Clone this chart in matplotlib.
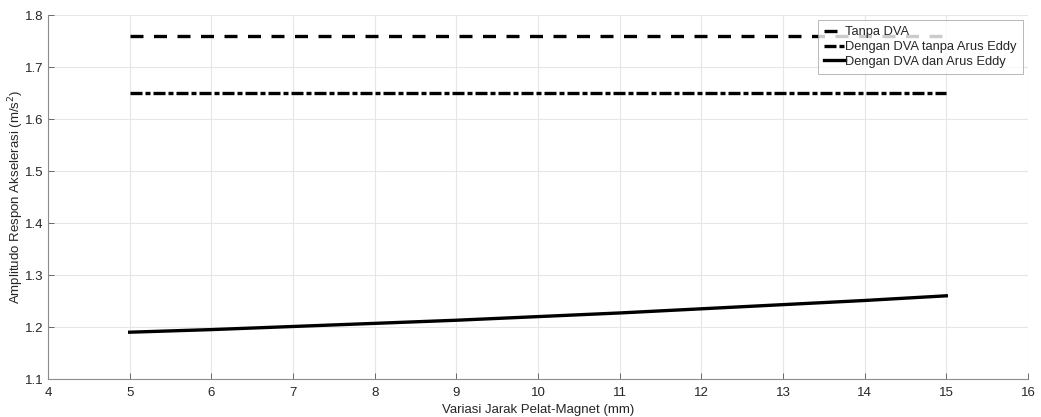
import matplotlib.pyplot as plt
import matplotlib as mpl

mpl.rcParams['font.family'] = ['Liberation Sans', 'DejaVu Sans']
mpl.rcParams['font.size'] = 9.5

# data
jarak = [5, 6, 7, 8, 9, 10, 11, 12, 13, 14, 15]
tanpa_dva = [1.76] * len(jarak)
dva_tanpa_eddy = [1.65] * len(jarak)
dva_eddy = [1.190, 1.195, 1.201, 1.207, 1.213, 1.220, 1.227, 1.235, 1.243, 1.251, 1.260]

fig = plt.figure(figsize=(10.41, 4.17), dpi=100)
ax = fig.add_axes([48 / 1041, 1 - 379 / 417, (1028 - 48) / 1041, (379 - 15) / 417])

ax.plot(jarak, tanpa_dva, color='black', lw=2.4, dashes=(3.9, 3.15), label='Tanpa DVA')
ax.plot(jarak, dva_tanpa_eddy, color='black', lw=2.4, dashes=(3.6, 0.9, 1.5, 0.9),
        label='Dengan DVA tanpa Arus Eddy')
ax.plot(jarak, dva_eddy, color='black', lw=2.4, label='Dengan DVA dan Arus Eddy')

ax.set_xlim(4, 16)
ax.set_ylim(1.1, 1.8)
ax.set_xticks(range(4, 17))
ax.set_yticks([1.1, 1.2, 1.3, 1.4, 1.5, 1.6, 1.7, 1.8])
ax.set_yticklabels(['1.1', '1.2', '1.3', '1.4', '1.5', '1.6', '1.7', '1.8'])
ax.grid(True, color='#e6e6e6', lw=0.8)
ax.set_axisbelow(True)

for s in ['top', 'right']:
    ax.spines[s].set_visible(False)
for s in ['left', 'bottom']:
    ax.spines[s].set_color('#8c8c8c')
    ax.spines[s].set_linewidth(0.8)
ax.tick_params(direction='in', length=4, width=0.6, color='#555555', labelcolor='#262626',
               labelsize=9.5)
ax.tick_params(axis='x', pad=6)
ax.tick_params(axis='y', pad=3)

ax.set_xlabel('Variasi Jarak Pelat-Magnet (mm)', color='#262626', labelpad=3.5)
ax.set_ylabel('Amplitudo Respon Akselerasi (m/s$^2$)', color='#262626')
ax.yaxis.set_label_coords(-22 / 980, 0.5)

leg = ax.legend(loc='upper right', bbox_to_anchor=(1023 / 1041, 1 - 20 / 417),
                bbox_transform=fig.transFigure, frameon=True, fancybox=False,
                handlelength=1.6, handletextpad=0.0, borderpad=0.5, labelspacing=0.2,
                borderaxespad=0, fontsize=9.3)
leg.get_frame().set_edgecolor('#999999')
leg.get_frame().set_linewidth(0.6)
for t in leg.get_texts():
    t.set_color('#262626')

fig.savefig('out.png', dpi=100)
